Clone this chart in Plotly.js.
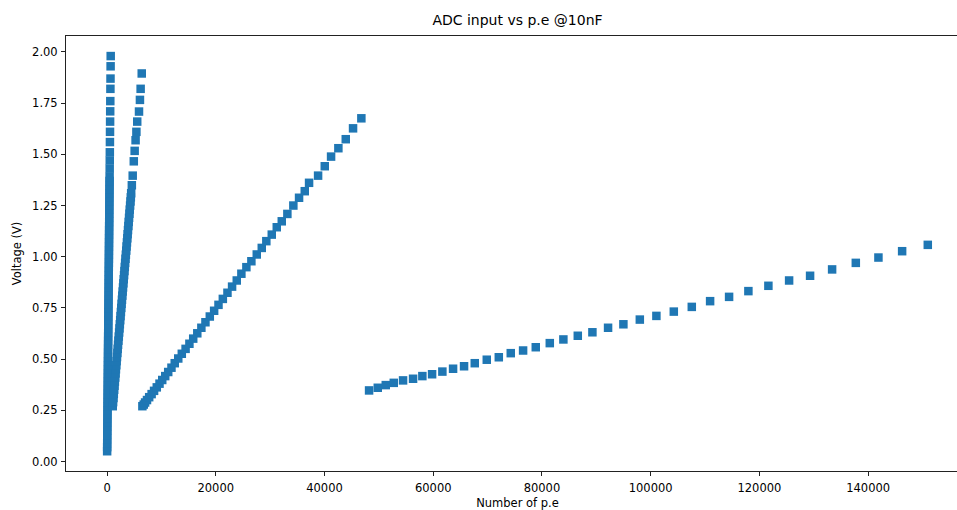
<!DOCTYPE html>
<html>
<head>
<meta charset="utf-8">
<script src="https://cdn.plot.ly/plotly-3.0.1.min.js"></script>
<style>
html, body { margin: 0; padding: 0; overflow: hidden; background: #fff; }
#chart { width: 985px; height: 510px; }
</style>
</head>
<body>
<div id="chart"></div>
<script>
// Series 1 (steepest, near x = 0)
const s1_pe = [17,24,31,37,44,51,58,65,71,78,85,92,99,105,112,119,126,133,139,146,153,160,167,173,180,187,194,201,207,214,221,228,235,241,248,255,262,269,275,282,289,296,303,309,316,323,330,337,343,350,357,364,371,377,384,391,398,405,411,418,425,432,439,445,452,459,466,473,
  486,500,513,530,547,564,581,598,619,636,656,673];
const s1_v = [0.05,0.07,0.09,0.11,0.13,0.15,0.17,0.19,0.21,0.23,0.25,0.27,0.29,0.31,0.33,0.35,0.37,0.39,0.41,0.43,0.45,0.47,0.49,0.51,0.53,0.55,0.57,0.59,0.61,0.63,0.65,0.67,0.69,0.71,0.73,0.75,0.77,0.79,0.81,0.83,0.85,0.87,0.89,0.91,0.93,0.95,0.97,0.99,1.01,1.03,1.05,1.07,1.09,1.11,1.13,1.15,1.17,1.19,1.21,1.23,1.25,1.27,1.29,1.31,1.33,1.35,1.37,1.39,
  1.43,1.47,1.51,1.56,1.61,1.66,1.71,1.76,1.82,1.87,1.93,1.98];

// Series 2
const s2_pe = [1050,1115,1180,1245,1310,1375,1440,1505,1570,1635,1700,1765,1830,1895,1960,2025,2090,2160,2225,2290,2355,2420,2485,2550,2615,2680,2745,2810,2875,2940,3005,3070,3135,3200,3265,3330,3395,3460,3530,3595,3660,3725,3790,3855,3920,3985,4050,4115,4180,4245,4310,4375,4440,
  4560,4720,4920,5080,5250,5400,5550,5880,6050,6180,6380];
const s2_v = [0.27,0.29,0.31,0.33,0.35,0.37,0.39,0.41,0.43,0.45,0.47,0.49,0.51,0.53,0.55,0.57,0.59,0.61,0.63,0.65,0.67,0.69,0.71,0.73,0.75,0.77,0.79,0.81,0.83,0.85,0.87,0.89,0.91,0.93,0.95,0.97,0.99,1.01,1.03,1.05,1.07,1.09,1.11,1.13,1.15,1.17,1.19,1.21,1.23,1.25,1.27,1.29,1.31,
  1.349,1.396,1.466,1.517,1.569,1.610,1.660,1.709,1.766,1.820,1.895];

// Series 3
const s3_pe = [6500,6750,7000,7350,7750,8200,8650,9150,9650,10150,10700,11250,11850,12450,13100,13750,14450,15150,15850,16600,17350,18100,18900,19700,20500,21300,22150,23000,
  23860,24710,25630,26550,27540,28460,29300,30300,31220,32140,33170,34270,35320,36370,37160,38820,40050,41210,42550,43910,45250,46780];
const s3_v = [0.270,0.278,0.288,0.300,0.314,0.329,0.345,0.362,0.380,0.398,0.417,0.437,0.458,0.480,0.503,0.526,0.550,0.575,0.600,0.626,0.653,0.680,0.708,0.736,0.765,0.794,0.824,0.854,
  0.884,0.917,0.949,0.978,1.011,1.043,1.076,1.108,1.144,1.173,1.209,1.250,1.288,1.320,1.361,1.396,1.442,1.489,1.530,1.574,1.627,1.676];

// Series 4
const s4_pe = [48200,49800,51270,52740,54450,56290,58000,59790,61680,63650,65670,67640,69850,72060,74260,76530,78860,81440,83940,86590,89280,92160,94980,98000,101050,104250,107560,110930,114420,117970,121650,125460,129320,133370,137730,141890,146250,150970];
const s4_v = [0.347,0.360,0.373,0.384,0.396,0.404,0.417,0.426,0.439,0.453,0.465,0.480,0.497,0.509,0.529,0.542,0.558,0.578,0.596,0.614,0.631,0.653,0.670,0.693,0.711,0.732,0.755,0.783,0.804,0.832,0.858,0.884,0.907,0.938,0.970,0.996,1.027,1.058];

const xTicks = [0,20000,40000,60000,80000,100000,120000,140000];
const yTicks = [0.00,0.25,0.50,0.75,1.00,1.25,1.50,1.75,2.00];

const color = '#1f77b4';
const mk = {symbol: 'square', size: 8.5, color: color, line: {width: 0}};
const traces = [[s1_pe,s1_v],[s2_pe,s2_v],[s3_pe,s3_v],[s4_pe,s4_v]].map(p => ({
  x: p[0], y: p[1], type: 'scatter', mode: 'markers', marker: mk, showlegend: false, hoverinfo: 'x+y'
}));

const font = 'DejaVu Sans, sans-serif';
const layout = {
  width: 985, height: 510,
  margin: {l: 66, r: 16, t: 36, b: 39},
  paper_bgcolor: '#fff', plot_bgcolor: '#fff',
  font: {family: font, color: '#000', size: 11.5},
  title: {text: 'ADC input vs p.e @10nF', font: {family: font, size: 14, color: '#000'},
          x: 0.5, xref: 'paper', y: 1 - 20.5/510, yref: 'container', yanchor: 'middle', xanchor: 'center'},
  xaxis: {
    range: [-7550, 158550], tickvals: xTicks, ticktext: xTicks.map(v => String(v)),
    showgrid: false, zeroline: false, showline: true, mirror: true, linecolor: '#222', linewidth: 1,
    ticks: 'outside', ticklen: 4, tickcolor: '#222', tickwidth: 1, ticklabelstandoff: 2,
    tickfont: {family: font, size: 11.5, color: '#000'},
    title: {text: 'Number of p.e', font: {family: font, size: 11.5, color: '#000'}, standoff: 8},
    automargin: false
  },
  yaxis: {
    range: [-0.0465, 2.078], tickvals: yTicks, ticktext: yTicks.map(v => v.toFixed(2)),
    showgrid: false, zeroline: false, showline: true, mirror: true, linecolor: '#222', linewidth: 1,
    ticks: 'outside', ticklen: 4, tickcolor: '#222', tickwidth: 1, ticklabelstandoff: 1,
    tickfont: {family: font, size: 11.5, color: '#000'},
    title: {text: 'Voltage (V)', font: {family: font, size: 11.5, color: '#000'}, standoff: 8},
    automargin: false
  }
};

Plotly.newPlot('chart', traces, layout, {displayModeBar: false, staticPlot: true});
</script>
</body>
</html>
